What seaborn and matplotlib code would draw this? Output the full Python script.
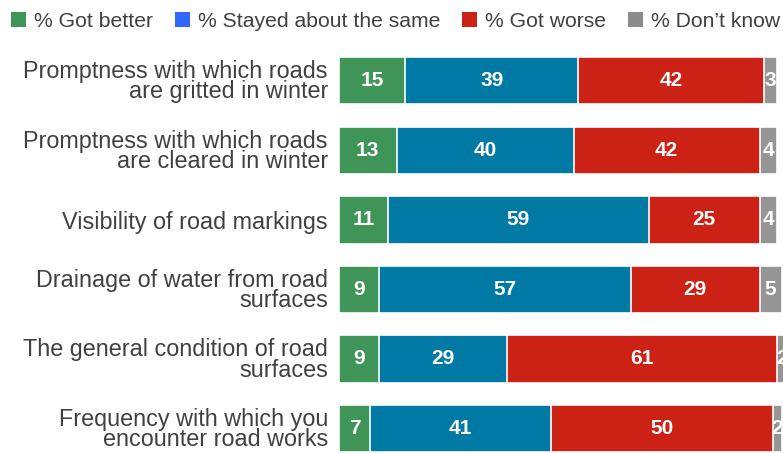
import matplotlib
matplotlib.use("Agg")
import matplotlib.pyplot as plt
from matplotlib.patches import Patch
import seaborn as sns
import pandas as pd
import numpy as np

categories = [
    "Promptness with which roads\nare gritted in winter",
    "Promptness with which roads\nare cleared in winter",
    "Visibility of road markings",
    "Drainage of water from road\nsurfaces",
    "The general condition of road\nsurfaces",
    "Frequency with which you\nencounter road works",
]
series_names = ["% Got better", "% Stayed about the same", "% Got worse", "% Don\u2019t know"]
got_better = [15, 13, 11, 9, 9, 7]
stayed_same = [39, 40, 59, 57, 29, 41]
got_worse = [42, 42, 25, 29, 61, 50]
dont_know = [3, 4, 4, 5, 2, 2]

bar_colors = ["#3f9557", "#0079a4", "#cc2216", "#959595"]
legend_colors = ["#3f9557", "#3366ff", "#cc2216", "#8c8c8c"]

sns.set_style("white")
plt.rcParams["font.family"] = ["Liberation Sans", "DejaVu Sans"]

df = pd.DataFrame({
    "category": categories,
    series_names[0]: got_better,
    series_names[1]: stayed_same,
    series_names[2]: got_worse,
    series_names[3]: dont_know,
})
values = df[series_names].to_numpy(dtype=float)
cum = np.cumsum(values, axis=1)

fig = plt.figure(figsize=(7.83, 4.53), dpi=100)
ax = fig.add_axes([339 / 783, 0, 1 - 339 / 783, 1 - 46 / 453])

# draw cumulative totals from the widest down so each segment shows
for i in range(len(series_names) - 1, -1, -1):
    sns.barplot(x=cum[:, i], y=df["category"], orient="h", color=bar_colors[i],
                saturation=1, width=0.68, edgecolor="white", linewidth=1.2, ax=ax)

for r in range(len(categories)):
    for i in range(len(series_names)):
        v = values[r, i]
        mid = cum[r, i] - v / 2
        ax.text(mid, r, f"{int(v)}", ha="center", va="center", color="white",
                fontsize=15, fontweight="bold", clip_on=True)

ax.set_xlim(0, 100.3)
ax.set_ylim(5 + (453 - 428.5) / 69.5, -0.5)
ax.set_xlabel("")
ax.set_ylabel("")
ax.set_xticks([])
for s in ax.spines.values():
    s.set_visible(False)
ax.tick_params(axis="y", length=0, pad=8, labelsize=16.8, labelcolor="#404040")
for lab in ax.get_yticklabels():
    lab.set_linespacing(0.84)

handles = [Patch(facecolor=c, edgecolor="none") for c in legend_colors]
fig.legend(handles, series_names, loc="upper left", bbox_to_anchor=(11 / 783, 1 - 12 / 453),
           ncol=4, frameon=False, fontsize=15.2, handlelength=0.7, handleheight=0.7,
           handletextpad=0.38, columnspacing=1.05, borderpad=0, borderaxespad=0,
           labelcolor="#404040")

fig.savefig("out.png", dpi=100)
